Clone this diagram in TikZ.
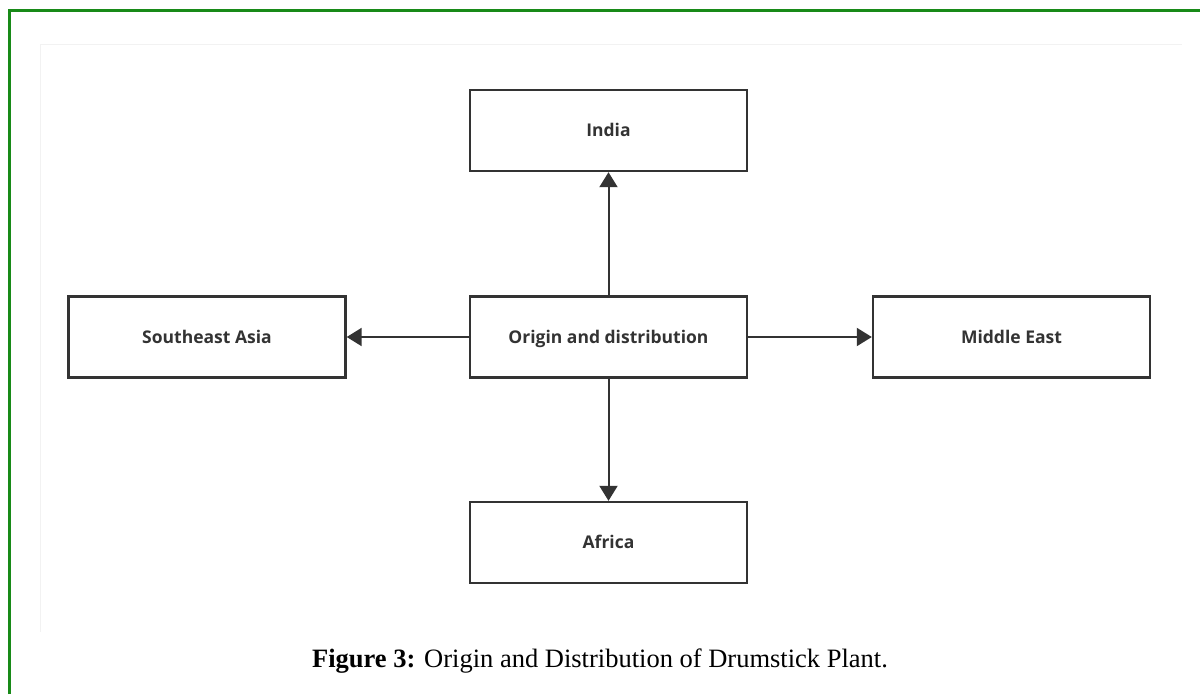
\documentclass[tikz,border=0pt]{standalone}
\usepackage{fontspec}
\setmainfont{Liberation Serif}
\newfontfamily\boxfont{Open Sans}
\usetikzlibrary{arrows.meta}
\definecolor{framegreen}{HTML}{188A18}
\definecolor{darkgrey}{HTML}{333333}
\definecolor{panelgrey}{HTML}{F2F2F2}

\tikzset{
  region/.style={draw=darkgrey, line width=2.4pt, fill=white,
    minimum width=277pt, minimum height=81pt, inner sep=0pt,
    text height=12.5pt, text depth=0pt,
    font=\boxfont\bfseries\fontsize{17.5}{21}\selectfont, text=darkgrey},
  spread/.style={draw=darkgrey, line width=2pt,
    -{Triangle[length=15pt,width=18pt]}}
}

\begin{document}
\begin{tikzpicture}[x=1pt,y=-1pt]
  \useasboundingbox (0,0) rectangle (1200,694);
  % page frame and panel
  \draw[framegreen, line width=3pt] (9.5,694) -- (9.5,10) -- (1200,10);
  \draw[panelgrey, line width=0.8pt] (40,632) -- (40,44) -- (1182,44);

  % boxes
  \node[region] (origin) at (608.5,337) {Origin and distribution};
  \node[region] (india) at (608.5,130.5) {India};
  \node[region] (africa) at (608.5,542.5) {Africa};
  \node[region] (seasia) at (207,337) {Southeast Asia};
  \node[region] (mideast) at (1011.5,337) {Middle East};

  % arrows
  \draw[spread] (origin) -- (india);
  \draw[spread] (origin) -- (africa);
  \draw[spread] (origin) -- (seasia);
  \draw[spread] (origin) -- (mideast);

  % caption
  \node[font=\fontsize{26.5}{30}\selectfont, text=black] (caption) at (600,661)
    {\textbf{Figure 3:} Origin and Distribution of Drumstick Plant.};
\end{tikzpicture}
\end{document}
